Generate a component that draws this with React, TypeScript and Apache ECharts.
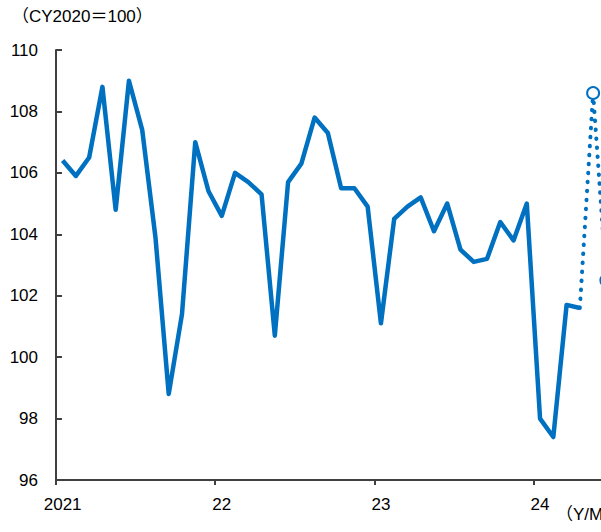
import React, { useEffect, useRef } from "react";
import * as echarts from "echarts";

const categories = [
  "2021", "2", "3", "4", "5", "6", "7", "8", "9", "10", "11", "12",
  "22", "2", "3", "4", "5", "6", "7", "8", "9", "10", "11", "12",
  "23", "2", "3", "4", "5", "6", "7", "8", "9", "10", "11", "12",
  "24", "2", "3", "4", "5", "6",
];

const actual = [
  106.4, 105.9, 106.5, 108.8, 104.8, 109.0, 107.4, 103.9, 98.8, 101.4, 107.0, 105.4,
  104.6, 106.0, 105.7, 105.3, 100.7, 105.7, 106.3, 107.8, 107.3, 105.5, 105.5, 104.9,
  101.1, 104.5, 104.9, 105.2, 104.1, 105.0, 103.5, 103.1, 103.2, 104.4, 103.8, 105.0,
  98.0, 97.4, 101.7, 101.6,
];

const forecast = [108.6, 102.5];

const yMin = 96;
const yMax = 110;
const yStep = 2;

const unitLabel = "（CY2020＝100）";
const axisUnit = "（Y/M）";

const FONT = "'Liberation Sans', Arial, 'Noto Sans CJK JP', sans-serif";
const BLUE = "#0070C0";
const AXIS = "#404040";

export default function App() {
  const ref = useRef<HTMLDivElement>(null);

  useEffect(() => {
    if (!ref.current) return;
    const chart = echarts.init(ref.current, undefined, { renderer: "svg" });

    const actualData: (number | null)[] = categories.map((_, i) =>
      i < actual.length ? actual[i] : null
    );
    const forecastData: any[] = categories.map(() => null);
    forecastData[actual.length - 1] = { value: actual[actual.length - 1], symbol: "none" };
    forecast.forEach((v, k) => {
      forecastData[actual.length + k] = v;
    });

    chart.setOption({
      animation: false,
      backgroundColor: "#ffffff",
      grid: { left: 56, top: 50, bottom: 52, right: 0 },
      xAxis: {
        type: "category",
        data: categories,
        boundaryGap: true,
        axisLine: { show: true, lineStyle: { color: AXIS, width: 2 } },
        axisTick: { show: true, interval: 11, length: 5, lineStyle: { color: AXIS, width: 2 } },
        axisLabel: {
          interval: 11,
          margin: 16,
          color: "#000",
          fontSize: 17,
          fontFamily: FONT,
        },
        splitLine: { show: false },
      },
      yAxis: {
        type: "value",
        min: yMin,
        max: yMax,
        interval: yStep,
        axisLine: { show: true, lineStyle: { color: AXIS, width: 2 } },
        axisTick: { show: true, inside: true, length: 6, lineStyle: { color: AXIS, width: 2 } },
        axisLabel: {
          margin: 18,
          color: "#000",
          fontSize: 17,
          fontFamily: FONT,
        },
        splitLine: { show: false },
      },
      graphic: [
        {
          type: "text",
          left: 12,
          top: 8,
          style: { text: unitLabel, fontSize: 17, fontFamily: FONT, fill: "#000" },
        },
        {
          type: "text",
          left: 556,
          top: 506,
          style: { text: axisUnit, fontSize: 17, fontFamily: FONT, fill: "#000" },
        },
      ],
      series: [
        {
          type: "line",
          data: actualData,
          showSymbol: false,
          symbol: "none",
          lineStyle: { color: BLUE, width: 4.5, join: "round" },
          itemStyle: { color: BLUE },
          clip: false,
          z: 3,
        },
        {
          type: "line",
          data: forecastData,
          symbol: "circle",
          symbolSize: 12,
          showSymbol: true,
          showAllSymbol: true,
          lineStyle: { color: BLUE, width: 4, type: [0.5, 8.5], cap: "round" },
          itemStyle: { color: "#ffffff", borderColor: BLUE, borderWidth: 2 },
          clip: false,
          z: 4,
        },
      ],
    });

    return () => chart.dispose();
  }, []);

  return (
    <div
      style={{
        position: "absolute",
        left: 0,
        top: 0,
        width: 601,
        height: 532,
        overflow: "hidden",
      }}
    >
      <div ref={ref} style={{ width: 613, height: 532 }} />
    </div>
  );
}
